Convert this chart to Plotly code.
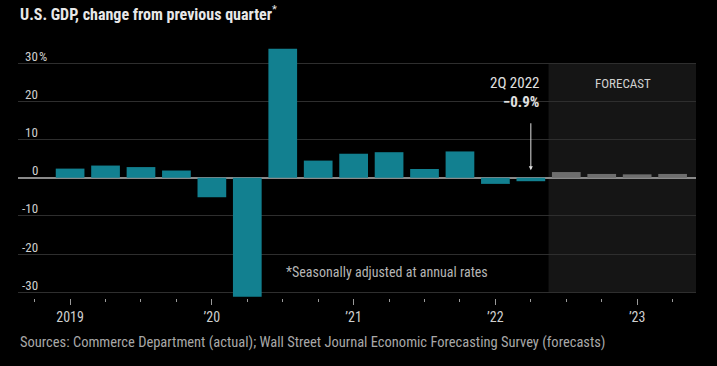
import plotly.graph_objects as go

# ---- data ----
quarters = ["2019Q1", "2019Q2", "2019Q3", "2019Q4",
            "2020Q1", "2020Q2", "2020Q3", "2020Q4",
            "2021Q1", "2021Q2", "2021Q3", "2021Q4",
            "2022Q1", "2022Q2",
            "2022Q3", "2022Q4", "2023Q1", "2023Q2"]
actual_values = [2.4, 3.2, 2.8, 1.9, -5.1, -31.2, 33.8, 4.5, 6.3, 6.7, 2.3, 6.9, -1.6, -0.9]
forecast_values = [1.5, 1.0, 0.9, 1.0]
year_tick_labels = ["2019", "\u201920", "\u201921", "\u201922", "\u201923"]
y_tick_values = [30, 20, 10, 0, -10, -20, -30]

FONT = "Liberation Sans Narrow, Arial Narrow, Roboto Condensed, Roboto, sans-serif"
BG = "#000000"
TEAL = "#128090"
FC_GREY = "#6e6e6e"
SHADE = "#151515"
GRID = "#2e2e2e"
TXT = "#cfcfcf"

n_act = len(actual_values)
x_act = list(range(n_act))
x_fc = list(range(n_act, n_act + len(forecast_values)))

fig = go.Figure()
fig.add_trace(go.Bar(x=x_act, y=actual_values, marker=dict(color=TEAL, line=dict(width=0)),
                     width=0.81, hoverinfo="skip", showlegend=False))
fig.add_trace(go.Bar(x=x_fc, y=forecast_values, marker=dict(color=FC_GREY, line=dict(width=0)),
                     width=0.81, hoverinfo="skip", showlegend=False))

# forecast shaded region
fig.add_shape(type="rect", xref="x", yref="y", x0=n_act - 0.5, x1=17.66, y0=-30, y1=30,
              fillcolor=SHADE, line=dict(width=0), layer="below")

# y tick labels (drawn above the gridlines, right-aligned)
for v in y_tick_values:
    fig.add_annotation(x=-0.85, y=v, xref="x", yref="y", text=str(v),
                       showarrow=False, xanchor="right", yanchor="middle", yshift=7,
                       font=dict(family=FONT, size=13, color=TXT))
fig.add_annotation(x=-0.85, y=y_tick_values[0], xref="x", yref="y", text="%",
                   showarrow=False, xanchor="left", yanchor="middle", yshift=7, xshift=-3,
                   font=dict(family=FONT, size=13, color=TXT))

# callout for 2Q 2022
fig.add_annotation(x=n_act - 1, y=2.0, ax=n_act - 1, ay=16.9, xref="x", yref="y",
                   axref="x", ayref="y", text=" ", showarrow=True, arrowhead=2,
                   arrowsize=0.8, arrowwidth=1, arrowcolor="#e0e0e0")
fig.add_annotation(x=13.29, y=24.8, xref="x", yref="y", text="2Q 2022", showarrow=False,
                   xanchor="right", yanchor="middle",
                   font=dict(family=FONT, size=15, color="#e0e0e0"))
fig.add_annotation(x=13.29, y=19.8, xref="x", yref="y", text="<b>\u22120.9%</b>", showarrow=False,
                   xanchor="right", yanchor="middle",
                   font=dict(family=FONT, size=15, color="#e0e0e0"))
fig.add_annotation(x=15.6, y=24.8, xref="x", yref="y", text="FORECAST", showarrow=False,
                   xanchor="center", yanchor="middle",
                   font=dict(family=FONT, size=13, color="#d0d0d0"))
fig.add_annotation(x=6.03, y=-24.8, xref="x", yref="y", text="*Seasonally adjusted at annual rates",
                   showarrow=False, xanchor="left", yanchor="middle",
                   font=dict(family=FONT, size=14, color="#b5b5b5"))

# title and source
fig.add_annotation(x=0, y=1, xref="paper", yref="paper", yshift=22,
                   text="<b>U.S. GDP, change from previous quarter</b><sup>*</sup>",
                   showarrow=False, xanchor="left", yanchor="bottom",
                   font=dict(family=FONT, size=16, color="#e8e8e8"))
fig.add_annotation(x=0, y=0, xref="paper", yref="paper", yshift=-44,
                   text="Sources: Commerce Department (actual); Wall Street Journal Economic Forecasting Survey (forecasts)",
                   showarrow=False, xanchor="left", yanchor="middle",
                   font=dict(family=FONT, size=14.5, color="#a8a8a8"))

fig.update_layout(
    width=717, height=366,
    margin=dict(l=18, r=21, t=48, b=68),
    paper_bgcolor=BG, plot_bgcolor=BG,
    bargap=0.19,
    xaxis=dict(range=[-1.47, 17.66], tickvals=[0, 4, 8, 12, 16], ticktext=year_tick_labels,
               ticks="outside", ticklen=6, tickwidth=1, tickcolor="#9a9a9a",
               minor=dict(dtick=1, tick0=0, ticks="outside", ticklen=3, tickcolor="#9a9a9a", showgrid=False),
               showgrid=False, zeroline=False, showline=False,
               tickfont=dict(family=FONT, size=14, color=TXT), fixedrange=True),
    yaxis=dict(range=[-31.5, 34], tickvals=y_tick_values, showticklabels=False,
               showgrid=True, gridcolor=GRID, gridwidth=1,
               zeroline=True, zerolinecolor="#8a8a8a", zerolinewidth=1.5,
               showline=False, fixedrange=True),
)

fig.write_html("out.html", config={"displayModeBar": False},
               post_script="document.body.style.margin='0';document.body.style.background='#000';")
